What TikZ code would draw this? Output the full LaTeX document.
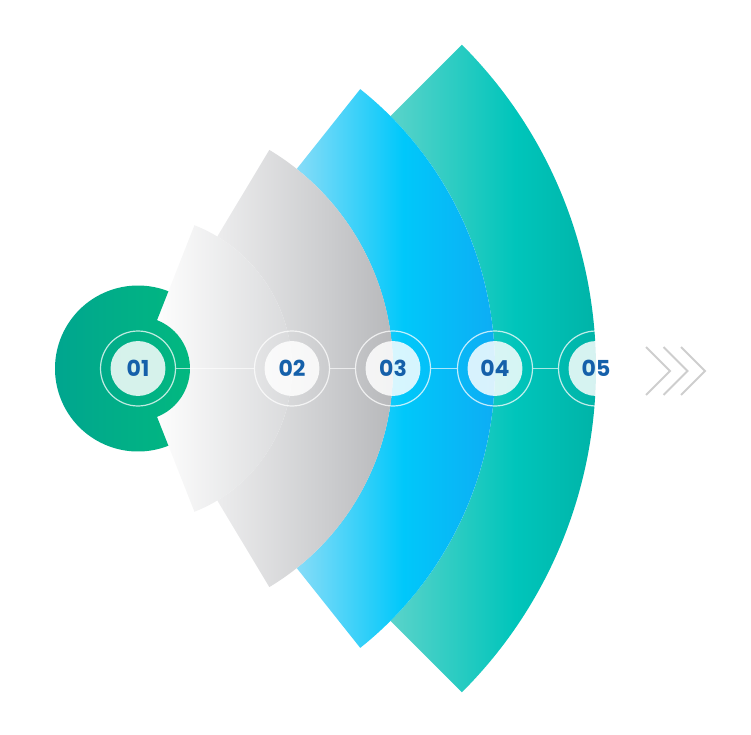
\documentclass[tikz,border=0pt]{standalone}
\usepackage{fontspec}
\setmainfont{Poppins}

\definecolor{tealL}{RGB}{90,211,202}
\definecolor{tealM}{RGB}{0,197,187}
\definecolor{tealR}{RGB}{0,170,157}
\definecolor{blueL}{RGB}{135,220,248}
\definecolor{blueM}{RGB}{0,200,250}
\definecolor{blueR}{RGB}{16,168,243}
\definecolor{greyL}{RGB}{236,236,237}
\definecolor{greyM}{RGB}{205,206,208}
\definecolor{greyR}{RGB}{172,173,176}
\definecolor{paleL}{RGB}{253,253,253}
\definecolor{paleR}{RGB}{212,213,215}
\definecolor{greenL}{RGB}{0,164,144}
\definecolor{greenR}{RGB}{2,185,127}
\definecolor{numblue}{RGB}{21,96,170}
\definecolor{chevgrey}{RGB}{206,206,206}

\tikzset{
stepnode/.style={circle, draw=white, draw opacity=0.75, line width=0.9pt,
  minimum size=56.25pt, inner sep=0pt, text=numblue,
  font=\bfseries\fontsize{16.5}{19}\selectfont,
  path picture={\fill[white, opacity=0.84] (path picture bounding box.center) circle (20.6pt);}},
link/.style={draw=white, draw opacity=0.65, line width=1.1pt},
chevron/.style={draw=chevgrey, line width=1.4pt}}

\begin{document}
\begin{tikzpicture}[x=0.75pt,y=0.75pt,yscale=-1,xscale=1]
\useasboundingbox (0,0) rectangle (751,735);

\begin{scope}[shift={(138,368.5)}]
%Shape: Sector 5
\shade [left color=tealL, right color=tealR, middle color=tealM] (45:357) -- (45:458) arc[start angle=45, end angle=-45, radius=458] -- (-45:357) arc[start angle=-45, end angle=45, radius=357] -- cycle ;
%Shape: Sector 4
\shade [left color=blueL, right color=blueR, middle color=blueM] (51.5:255) -- (51.5:357) arc[start angle=51.5, end angle=-51.5, radius=357] -- (-51.5:255) arc[start angle=-51.5, end angle=51.5, radius=255] -- cycle ;
%Shape: Sector 3
\shade [left color=greyL, right color=greyR, middle color=greyM] (59:154) -- (59:255) arc[start angle=59, end angle=-59, radius=255] -- (-59:154) arc[start angle=-59, end angle=59, radius=154] -- cycle ;
%Shape: Sector 2
\shade [left color=paleL, right color=paleR] (68.5:52) -- (68.5:154) arc[start angle=68.5, end angle=-68.5, radius=154] -- (-68.5:52) arc[start angle=-68.5, end angle=68.5, radius=52] -- cycle ;
%Shape: Sector 1
\shade [left color=greenL, right color=greenR] (68.5:83) arc[start angle=68.5, end angle=291.5, radius=83] -- (-68.5:52) arc[start angle=-68.5, end angle=68.5, radius=52] -- cycle ;
\end{scope}

% Step Nodes
\node [stepnode] (s1) at (138,368.5) {01};
\node [stepnode] (s2) at (292,368.5) {02};
\node [stepnode] (s3) at (393,368.5) {03};
\node [stepnode] (s4) at (495,368.5) {04};
\node [stepnode] (s5) at (596,368.5) {05};

%Straight Lines
\draw [link] (s1) -- (s2) ;
\draw [link] (s2) -- (s3) ;
\draw [link] (s3) -- (s4) ;
\draw [link] (s4) -- (s5) ;

%Chevrons
\foreach \x in {646,663.5,681}
  \draw [chevron] (\x,347) -- (\x+24,371) -- (\x,395) ;

\end{tikzpicture}
\end{document}
